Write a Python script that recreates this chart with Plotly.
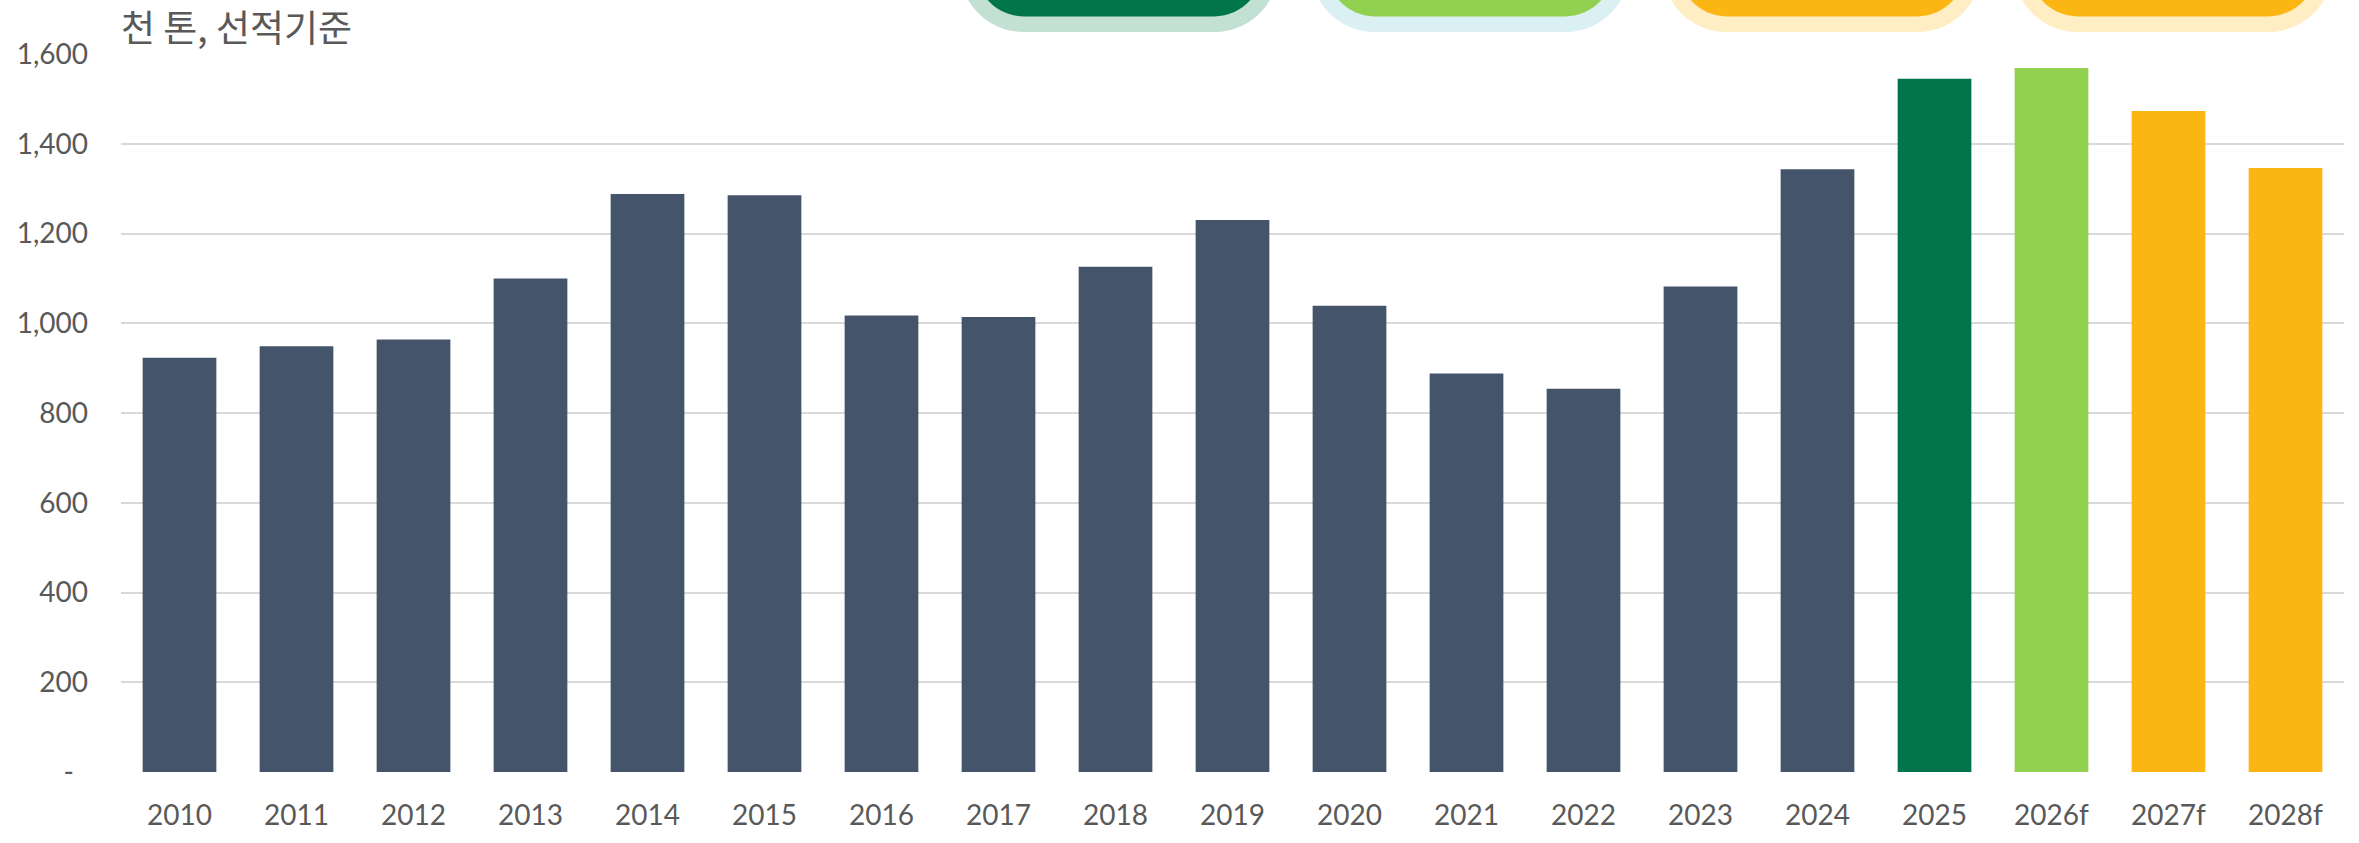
import plotly.graph_objects as go

# ---- data ----
categories = ["2010", "2011", "2012", "2013", "2014", "2015", "2016", "2017", "2018",
              "2019", "2020", "2021", "2022", "2023", "2024", "2025", "2026f", "2027f", "2028f"]
values = [923, 949, 964, 1100, 1288, 1285, 1017, 1014, 1126,
          1230, 1039, 888, 854, 1082, 1343, 1545, 1569, 1473, 1346]
bar_colors = ["#44546A"] * 15 + ["#00744A", "#92D050", "#FBB614", "#FBB614"]
y_tickvals = [0, 200, 400, 600, 800, 1000, 1200, 1400, 1600]
y_ticktext = ["-\u2002", "200", "400", "600", "800", "1,000", "1,200", "1,400", "1,600"]
unit_label = "천 톤, 선적기준"

# ---- layout geometry (pixels) ----
W, H = 2359, 843
ML, MR, MT, MB = 121, 15, 54, 58
PW, PH = W - ML - MR, H - MT - MB


def px(x):
    return (x - ML) / PW


def py(y):
    return (H - MB - y) / PH


def rounded_bottom(cx, half_flat, bottom, r, top):
    k = 0.5523
    L = cx - half_flat - r
    R = cx + half_flat + r
    fl = cx - half_flat
    fr = cx + half_flat
    p = [
        f"M {px(L)},{py(top)}",
        f"L {px(L)},{py(bottom - r)}",
        f"C {px(L)},{py(bottom - r + r * k)} {px(fl - r * k)},{py(bottom)} {px(fl)},{py(bottom)}",
        f"L {px(fr)},{py(bottom)}",
        f"C {px(fr + r * k)},{py(bottom)} {px(R)},{py(bottom - r + r * k)} {px(R)},{py(bottom - r)}",
        f"L {px(R)},{py(top)} Z",
    ]
    return " ".join(p)


badges = [
    (1119, "#C2E0D3", "#00744A"),
    (1470, "#DAF0F3", "#92D050"),
    (1822, "#FFEDC4", "#FBB614"),
    (2173, "#FFEDC4", "#FBB614"),
]

shapes = []
for cx, oc, ic in badges:
    shapes.append(dict(type="path", xref="paper", yref="paper",
                       path=rounded_bottom(cx, 95, 31.7, 64, -60),
                       fillcolor=oc, line=dict(width=0), layer="above"))
    shapes.append(dict(type="path", xref="paper", yref="paper",
                       path=rounded_bottom(cx, 95, 15.7, 48, -60),
                       fillcolor=ic, line=dict(width=0), layer="above"))

fig = go.Figure()
fig.add_trace(go.Bar(x=categories, y=values, marker=dict(color=bar_colors, line=dict(width=0)),
                     hoverinfo="x+y"))

fig.update_layout(
    width=W, height=H,
    margin=dict(l=ML, r=MR, t=MT, b=MB, pad=0),
    paper_bgcolor="white", plot_bgcolor="white",
    bargap=0.37,
    showlegend=False,
    font=dict(family="Lato, Carlito, sans-serif", size=28, color="#595959"),
    shapes=shapes,
    annotations=[dict(text=unit_label, xref="paper", yref="paper",
                      x=px(119), y=py(26), xanchor="left", yanchor="middle",
                      showarrow=False,
                      font=dict(family="Noto Sans CJK KR", size=37, color="#595959"))],
    xaxis=dict(showgrid=False, showline=False, zeroline=False, ticks="",
               tickfont=dict(size=28, color="#595959"), ticklabelstandoff=24),
    yaxis=dict(range=[0, 1600], tickvals=y_tickvals, ticktext=y_ticktext,
               showgrid=True, gridcolor="#D9D9D9", gridwidth=2,
               zeroline=False, showline=False, ticks="",
               tickfont=dict(size=28, color="#595959"), ticklabelstandoff=32),
)

css_fix = (
    "var s=document.createElement('style');"
    "s.textContent='html,body{margin:0;padding:0;height:843px;overflow:hidden;}';"
    "document.head.appendChild(s);"
)
fig.write_html("out.html", config={"displayModeBar": False}, post_script=css_fix)
